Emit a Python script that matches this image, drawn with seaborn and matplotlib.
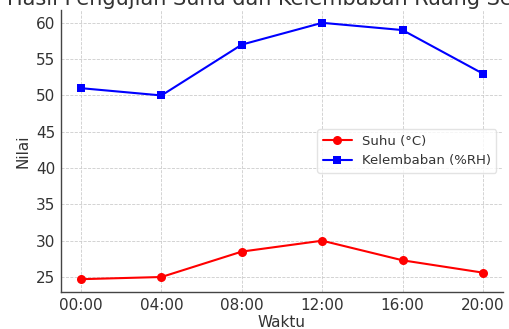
import matplotlib
matplotlib.use("Agg")
import matplotlib.pyplot as plt
import seaborn as sns
import pandas as pd

waktu = ["00:00", "04:00", "08:00", "12:00", "16:00", "20:00"]
suhu = [24.7, 25.0, 28.5, 30.0, 27.3, 25.6]
kelembaban = [51, 50, 57, 60, 59, 53]
yticks = [25, 30, 35, 40, 45, 50, 55, 60]

sns.set_style("white")
plt.rcParams['font.family'] = ['DejaVu Sans']
text_color = "#333333"

fig = plt.figure(figsize=(5.09, 3.29), dpi=100)
W, H = 509, 329
ax = fig.add_axes([61 / W, 1 - 292 / H, (503 - 61) / W, (292 - 10) / H])

df = pd.DataFrame({"Waktu": waktu, "Suhu": suhu, "Kelembaban": kelembaban})
sns.lineplot(data=df, x="Waktu", y="Suhu", ax=ax, color="red", marker="o",
             markersize=6.5, markeredgewidth=0, linewidth=1.5, label="Suhu (°C)")
sns.lineplot(data=df, x="Waktu", y="Kelembaban", ax=ax, color="blue", marker="s",
             markersize=5.5, markeredgewidth=0, linewidth=1.5, label="Kelembaban (%RH)")

ax.set_yticks(yticks)
ax.set_xlabel("Waktu", fontsize=11, color=text_color, labelpad=2)
ax.set_ylabel("Nilai", fontsize=11, color=text_color, labelpad=4)
ax.tick_params(axis="both", direction="in", length=4, width=0.8, colors="#555555",
               labelsize=11, labelcolor=text_color, pad=4)
ax.grid(True, linestyle="--", color="#cccccc", linewidth=0.6)
for s in ["top", "right"]:
    ax.spines[s].set_visible(False)
for s in ["left", "bottom"]:
    ax.spines[s].set_color("#444444")
    ax.spines[s].set_linewidth(1.0)

leg = ax.legend(loc="center right", fontsize=9.5, frameon=True, handlelength=2.2)
for t in leg.get_texts():
    t.set_color(text_color)
leg.get_frame().set_edgecolor("#dddddd")

fig.text(7 / W, 1 - 5 / H, "Hasil Pengujian Suhu dan Kelembaban Ruang Server",
         ha="left", va="baseline", fontsize=15, color=text_color)

fig.savefig("out.png", dpi=100)
